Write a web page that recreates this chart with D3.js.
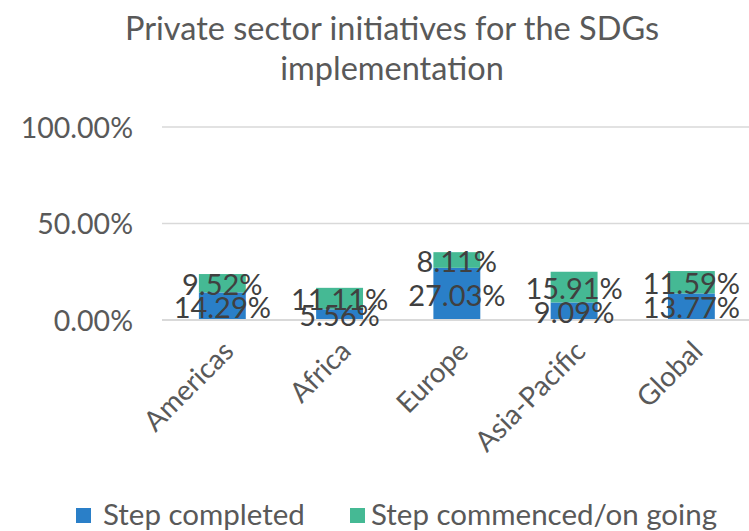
<!DOCTYPE html>
<html><head><meta charset="utf-8">
<script src="https://cdn.jsdelivr.net/npm/d3@7"></script>
<style>body{margin:0;background:#fff}svg{display:block}text{font-family:Lato,"Open Sans",sans-serif}</style>
</head><body>
<svg id="c" width="749" height="531"></svg>
<script>
const categories = ["Americas","Africa","Europe","Asia-Pacific","Global"];
const completed = [14.29, 5.56, 27.03, 9.09, 13.77];
const commenced = [9.52, 11.11, 8.11, 15.91, 11.59];
const seriesNames = ["Step completed","Step commenced/on going"];
const yTicks = [0, 50, 100];
const colors = ["#2a7fc8","#45b994"];

const svg = d3.select("#c");
const x = d3.scaleBand().domain(categories).range([163.7, 750]).paddingInner(0.6).paddingOuter(0.3);
const y = d3.scaleLinear().domain([0,100]).range([320, 127]);

// title
const title = svg.append("text").attr("text-anchor","middle").attr("fill","#595959").style("font-size","32.5px");
title.append("tspan").attr("x",392).attr("y",40).text("Private sector initiatives for the SDGs");
title.append("tspan").attr("x",392).attr("y",80).text("implementation");

// gridlines
svg.append("g").selectAll("line").data(yTicks.filter(d=>d>0)).join("line")
  .attr("x1",162).attr("x2",749).attr("y1",d=>y(d)).attr("y2",d=>y(d))
  .attr("stroke","#d9d9d9").attr("stroke-width",1.5);

// y axis
const yAxis = d3.axisLeft(y).tickValues(yTicks).tickSize(0).tickPadding(0).tickFormat(d=>d.toFixed(2)+"%");
const ya = svg.append("g").attr("transform","translate(133,0)").call(yAxis);
ya.select(".domain").remove();
ya.selectAll("text").attr("fill","#595959").style("font-size","28.5px").style("font-family","Lato,'Open Sans',sans-serif").attr("dy","0.36em");

// stacked data
const data = categories.map((c,i)=>({cat:c, completed:completed[i], commenced:commenced[i]}));
const stack = d3.stack().keys(["completed","commenced"])(data);

const g = svg.append("g");
stack.forEach((s,si)=>{
  g.selectAll(null).data(s).join("rect")
    .attr("x",d=>x(d.data.cat)).attr("width",x.bandwidth())
    .attr("y",d=>y(d[1])).attr("height",d=>y(d[0])-y(d[1]))
    .attr("fill",colors[si]);
});

// baseline
svg.append("line").attr("x1",162).attr("x2",749).attr("y1",y(0)).attr("y2",y(0))
  .attr("stroke","#d9d9d9").attr("stroke-width",2);

// labels
stack.forEach((s,si)=>{
  svg.append("g").selectAll("text").data(s).join("text")
    .attr("x",d=>x(d.data.cat)+x.bandwidth()/2)
    .attr("y",d=>y((d[0]+d[1])/2))
    .attr("dy","0.4em")
    .attr("text-anchor","middle").attr("fill","#404040").style("font-size","29px")
    .text(d=>(d[1]-d[0]).toFixed(2)+"%");
});

// x labels
const xAxis = d3.axisBottom(x).tickSize(0).tickPadding(0);
const xa = svg.append("g").attr("transform","translate(0,320)").call(xAxis);
xa.select(".domain").remove();
xa.selectAll("text").attr("fill","#595959").style("font-size","28px").style("font-family","Lato,'Open Sans',sans-serif")
  .attr("text-anchor","end").attr("dy","0").attr("y",0)
  .attr("transform","translate(13,33) rotate(-45)");

// legend
const leg = svg.append("g");
const legX = [76, 350];
seriesNames.forEach((n,i)=>{
  leg.append("rect").attr("x",legX[i]).attr("y",508).attr("width",15).attr("height",15).attr("fill",colors[i]);
  leg.append("text").attr("x",legX[i]+(i?21:27)).attr("y",525).attr("fill","#595959").style("font-size","29.5px").text(n);
});
</script>
</body></html>
